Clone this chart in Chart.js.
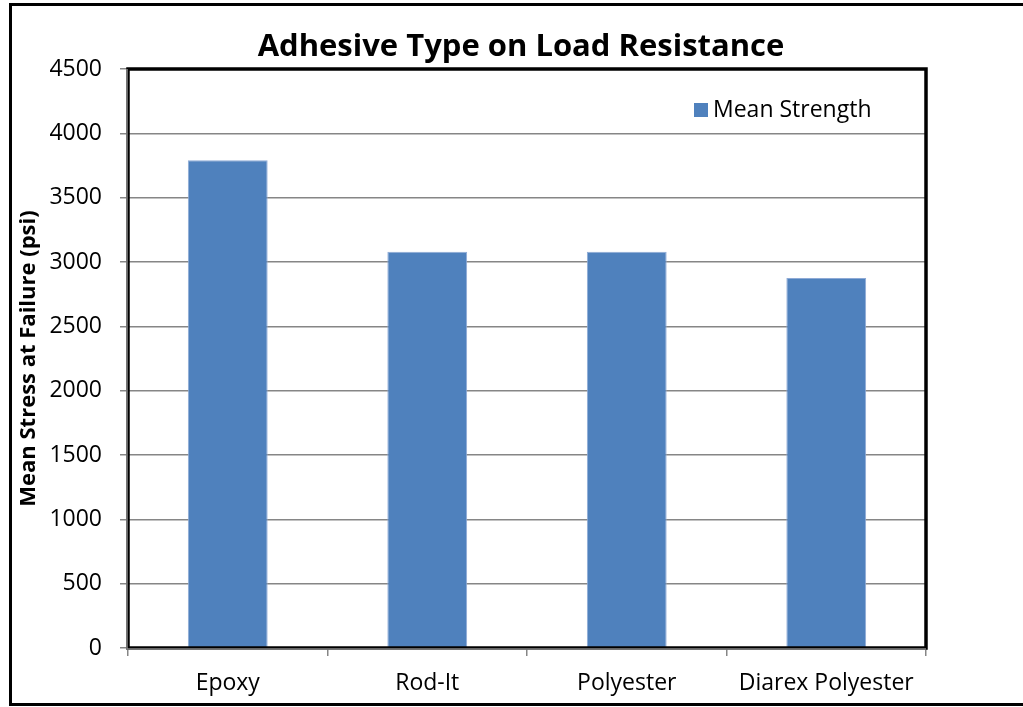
<!DOCTYPE html>
<html>
<head>
<meta charset="utf-8">
<script src="https://cdn.jsdelivr.net/npm/chart.js@4.4.0/dist/chart.umd.min.js"></script>
<style>
  html, body { margin: 0; padding: 0; background: #fff; }
  #wrap { position: relative; width: 1023px; height: 707px; }
</style>
</head>
<body>
<div id="wrap"><canvas id="chart" width="1023" height="707"></canvas></div>
<script>
// values
const categories = ["Epoxy", "Rod-It", "Polyester", "Diarex Polyester"];
const meanStrength = [3790, 3080, 3080, 2875];
const seriesLabel = "Mean Strength";
const chartTitle = "Adhesive Type on Load Resistance";
const yAxisTitle = "Mean Stress at Failure (psi)";

const FONT = "'Open Sans', 'Noto Sans', sans-serif";

// frame, plot border, title and in-plot legend (Excel style)
const excelLook = {
  id: "excelLook",
  afterDraw(chart) {
    const { ctx, chartArea: a } = chart;
    ctx.save();
    // outer frame
    ctx.strokeStyle = "#000";
    ctx.lineWidth = 3;
    ctx.beginPath();
    ctx.moveTo(1030, 4.5);
    ctx.lineTo(10.5, 4.5);
    ctx.lineTo(10.5, 704.5);
    ctx.lineTo(1030, 704.5);
    ctx.stroke();
    // plot area border
    ctx.lineWidth = 3.5;
    ctx.strokeRect(a.left, a.top, a.right - a.left, a.bottom - a.top);
    // gray axis lines on left/bottom
    ctx.strokeStyle = "#868686";
    ctx.lineWidth = 1.5;
    ctx.beginPath();
    ctx.moveTo(a.left - 1, a.top);
    ctx.lineTo(a.left - 1, a.bottom + 1);
    ctx.lineTo(a.right, a.bottom + 1);
    ctx.stroke();

    // title
    ctx.fillStyle = "#000";
    ctx.font = "bold 31px " + FONT;
    ctx.textAlign = "center";
    ctx.textBaseline = "middle";
    ctx.fillText(chartTitle, 521, 47);

    // legend
    const ds = chart.data.datasets[0];
    ctx.fillStyle = ds.backgroundColor;
    ctx.fillRect(694, 103, 14, 14);
    ctx.fillStyle = "#000";
    ctx.font = "23px " + FONT;
    ctx.textAlign = "left";
    ctx.fillText(ds.label, 713, 110);
    ctx.restore();
  }
};

new Chart(document.getElementById("chart"), {
  type: "bar",
  data: {
    labels: categories,
    datasets: [{
      label: seriesLabel,
      data: meanStrength,
      backgroundColor: "#4F81BD",
      borderColor: "#8EAAD6",
      borderWidth: 1,
      categoryPercentage: 0.4,
      barPercentage: 1
    }]
  },
  options: {
    responsive: false,
    animation: false,
    layout: { padding: { top: 69, right: 97, left: 10, bottom: 9 } },
    plugins: {
      legend: { display: false },
      title: { display: false },
      tooltip: { enabled: false }
    },
    scales: {
      x: {
        afterFit: (s) => { s.height = 50; },
        grid: {
          offset: true,
          drawOnChartArea: false,
          drawTicks: true,
          tickLength: 8,
          color: "#868686",
          lineWidth: 1.5
        },
        border: { display: false },
        ticks: {
          color: "#000",
          font: { family: FONT, size: 23 },
          padding: 14,
          maxRotation: 0
        }
      },
      y: {
        min: 0,
        max: 4500,
        afterFit: (s) => { s.width = 118; },
        grid: {
          color: "#868686",
          lineWidth: 1.5,
          tickLength: 8
        },
        border: { display: false },
        ticks: {
          stepSize: 500,
          color: "#000",
          font: { family: FONT, size: 23 },
          padding: 18,
          callback: (v) => String(v)
        },
        title: {
          display: true,
          text: yAxisTitle,
          color: "#000",
          font: { family: FONT, size: 22, weight: "bold" },
          padding: { top: 6, bottom: 0 }
        }
      }
    }
  },
  plugins: [excelLook]
});
</script>
</body>
</html>
